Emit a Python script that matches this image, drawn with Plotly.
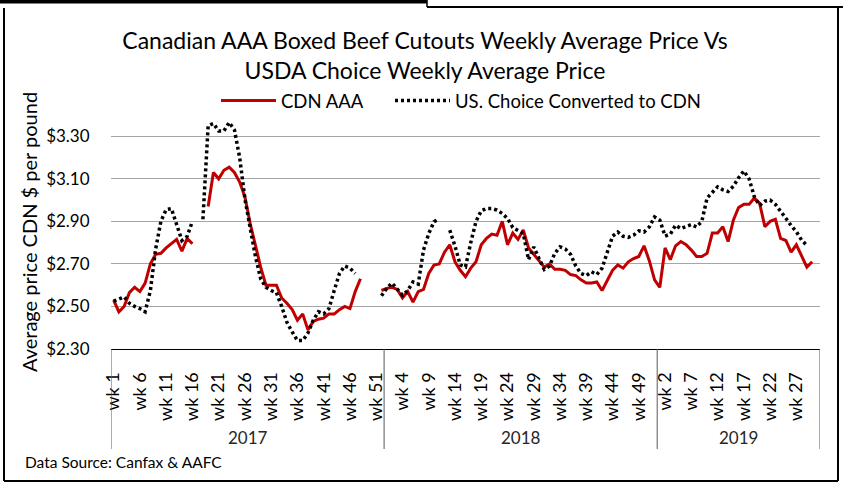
import plotly.graph_objects as go

# ---------------- data ----------------
years = ["2017", "2018", "2019"]
weeks_in_year = [52, 52, 31]

cdn_2017 = [2.53, 2.475, 2.50, 2.565, 2.59, 2.57, 2.61, 2.70, 2.745, 2.75,
            2.775, 2.795, 2.815, 2.76, 2.82, 2.795, None, None, 2.97, 3.13,
            3.10, 3.14, 3.155, 3.13, 3.085, 3.015, 2.89, 2.78, 2.685, 2.60,
            2.60, 2.60, 2.54, 2.515, 2.485, 2.435, 2.465, 2.39, 2.43, 2.44,
            2.445, 2.465, 2.465, 2.485, 2.50, 2.49, 2.57, 2.63, None, None,
            None, 2.575]
cdn_2018 = [2.585, 2.59, 2.58, 2.54, 2.57, 2.52, 2.57, 2.58, 2.655, 2.695,
            2.70, 2.755, 2.79, 2.71, 2.67, 2.64, 2.68, 2.71, 2.79, 2.82,
            2.84, 2.835, 2.90, 2.79, 2.845, 2.815, 2.86, 2.775, 2.745, 2.72,
            2.685, 2.70, 2.675, 2.675, 2.67, 2.65, 2.645, 2.625, 2.61, 2.61,
            2.615, 2.575, 2.625, 2.67, 2.695, 2.68, 2.71, 2.725, 2.735, 2.785,
            2.715, 2.625]
cdn_2019 = [2.59, 2.775, 2.72, 2.785, 2.805, 2.79, 2.765, 2.735, 2.735, 2.75,
            2.845, 2.845, 2.875, 2.805, 2.905, 2.965, 2.98, 2.98, 3.01, 2.985,
            2.875, 2.90, 2.91, 2.82, 2.81, 2.755, 2.79, 2.735, 2.685, 2.71,
            None]

us_2017 = [2.525, 2.535, 2.545, 2.515, 2.50, 2.49, 2.475, 2.575, 2.77, 2.90,
           2.955, 2.96, 2.89, 2.81, 2.83, 2.90, None, 2.91, 3.35, 3.36,
           3.325, 3.325, 3.365, 3.33, 3.20, 3.005, 2.86, 2.735, 2.63, 2.59,
           2.575, 2.565, 2.50, 2.425, 2.38, 2.34, 2.34, 2.375, 2.435, 2.475,
           2.465, 2.49, 2.575, 2.655, 2.69, 2.68, 2.655, None, None, None,
           None, 2.55]
us_2018 = [2.585, 2.61, 2.58, 2.553, 2.575, 2.615, 2.605, 2.765, 2.843, 2.898,
           2.912, None, 2.859, 2.784, 2.695, 2.686, 2.80, 2.90, 2.95, 2.96,
           2.96, 2.953, 2.937, 2.914, 2.871, 2.859, 2.843, 2.72, 2.78, 2.725,
           2.674, 2.69, 2.75, 2.78, 2.77, 2.745, 2.69, 2.655, 2.645, 2.663,
           2.65, 2.68, 2.755, 2.83, 2.85, 2.83, 2.825, 2.835, 2.855, 2.85,
           2.874, 2.921]
us_2019 = [2.906, 2.831, 2.84, 2.882, 2.866, 2.874, 2.885, 2.874, 2.90, 3.01,
           3.038, 3.062, 3.048, 3.04, 3.065, 3.105, 3.137, 3.10, 3.015, 2.975,
           2.995, 3.0, 2.98, 2.95, 2.915, 2.88, 2.851, 2.812, 2.787, None,
           None]

y_ticks = [2.30, 2.50, 2.70, 2.90, 3.10, 3.30]
y_tick_labels = ["$2.30", "$2.50", "$2.70", "$2.90", "$3.10", "$3.30"]
label_every = 5

# ---------------- build categories ----------------
categories, week_labels = [], []
for yr, n in zip(years, weeks_in_year):
    for w in range(1, n + 1):
        categories.append(f"{yr} wk {w}")
        week_labels.append(f"wk {w}")
tick_vals = categories[::label_every]
tick_text = week_labels[::label_every]

cdn = cdn_2017 + cdn_2018 + cdn_2019
us = us_2017 + us_2018 + us_2019

# ---------------- geometry helpers (pixels -> paper) ----------------
W, H = 843, 487
ML, MR, MT, MB = 111, 23, 115, 138
PW, PH = W - ML - MR, H - MT - MB


def px(x):
    return (x - ML) / PW


def py(y):
    return (H - MB - y) / PH


fig = go.Figure()
fig.add_trace(go.Scatter(x=categories, y=cdn, mode="lines", name="CDN AAA",
                         line=dict(color="#C00000", width=3), legend="legend"))
fig.add_trace(go.Scatter(x=categories, y=us, mode="lines",
                         name="US. Choice Converted to CDN",
                         line=dict(color="black", width=3.5, dash="3px,3px"),
                         legend="legend2"))

# year dividers / category box
bounds = [-0.5]
acc = -0.5
for n in weeks_in_year:
    acc += n
    bounds.append(acc)
shapes = []
for b in bounds:
    shapes.append(dict(type="line", xref="x", yref="paper", x0=b, x1=b,
                       y0=0, y1=py(449), line=dict(color="#595959", width=1)))

# outer frame
frame = dict(color="black", width=2)
shapes += [
    dict(type="line", xref="paper", yref="paper", x0=px(4), x1=px(4), y0=py(8), y1=py(481), line=frame),
    dict(type="line", xref="paper", yref="paper", x0=px(4), x1=px(838), y0=py(481), y1=py(481), line=frame),
    dict(type="line", xref="paper", yref="paper", x0=px(838), x1=px(838), y0=py(8), y1=py(481), line=frame),
    dict(type="line", xref="paper", yref="paper", x0=px(427), x1=px(843), y0=py(7), y1=py(7), line=frame),
    dict(type="line", xref="paper", yref="paper", x0=px(0), x1=px(427), y0=py(1.5), y1=py(1.5),
         line=dict(color="black", width=4)),
    dict(type="line", xref="paper", yref="paper", x0=px(427), x1=px(427), y0=py(0), y1=py(7),
         line=dict(color="black", width=1.5)),
]

annotations = []
start = 0
for yr, n in zip(years, weeks_in_year):
    annotations.append(dict(x=start + (n - 1) / 2, xref="x", y=py(437), yref="paper",
                            text=yr, showarrow=False, yanchor="middle",
                            font=dict(size=17, color="#262626")))
    start += n
annotations.append(dict(x=px(23), xref="paper", y=py(462), yref="paper",
                        text="Data Source: Canfax & AAFC", showarrow=False,
                        xanchor="left", yanchor="middle",
                        font=dict(size=15.5, color="black")))

legend_common = dict(orientation="h", xanchor="left", yanchor="middle",
                     font=dict(size=18.5, color="black"), itemwidth=55,
                     bgcolor="rgba(0,0,0,0)")

fig.update_layout(
    width=W, height=H,
    margin=dict(l=ML, r=MR, t=MT, b=MB),
    paper_bgcolor="white", plot_bgcolor="white",
    font=dict(family="Lato, Noto Sans, sans-serif", color="#262626"),
    title=dict(text="Canadian AAA Boxed Beef Cutouts Weekly Average Price Vs<br>USDA Choice Weekly Average Price",
               x=425 / W, xref="container", xanchor="center",
               y=1 - 49 / H, yref="container", yanchor="middle",
               font=dict(size=23, color="black")),
    showlegend=True,
    legend=dict(x=px(216), y=py(101), **legend_common),
    legend2=dict(x=px(390), y=py(101), **legend_common),
    shapes=shapes, annotations=annotations,
)
fig.update_xaxes(type="category", categoryorder="array", categoryarray=categories,
                 range=[-0.5, len(categories) - 0.5],
                 tickmode="array", tickvals=tick_vals, ticktext=tick_text,
                 tickangle=-90, tickfont=dict(size=18, color="black"),
                 ticks="outside", ticklen=15, tickcolor="rgba(0,0,0,0)",
                 showgrid=False, showline=True, linecolor="black", linewidth=1,
                 zeroline=False, automargin=False)
fig.update_yaxes(range=[2.3, 3.4], tickmode="array", tickvals=y_ticks,
                 ticktext=y_tick_labels,
                 tickfont=dict(size=17, color="black"),
                 ticks="outside", ticklen=17, tickcolor="rgba(0,0,0,0)",
                 showgrid=True, gridcolor="#A6A6A6", gridwidth=1,
                 showline=False, zeroline=False, automargin=False,
                 title=dict(text="Average price CDN $ per pound", standoff=3,
                            font=dict(size=20, color="black")))

fig.write_html("out.html", config={"displayModeBar": False},
               post_script="document.body.style.margin='0';document.body.style.overflow='hidden';")
